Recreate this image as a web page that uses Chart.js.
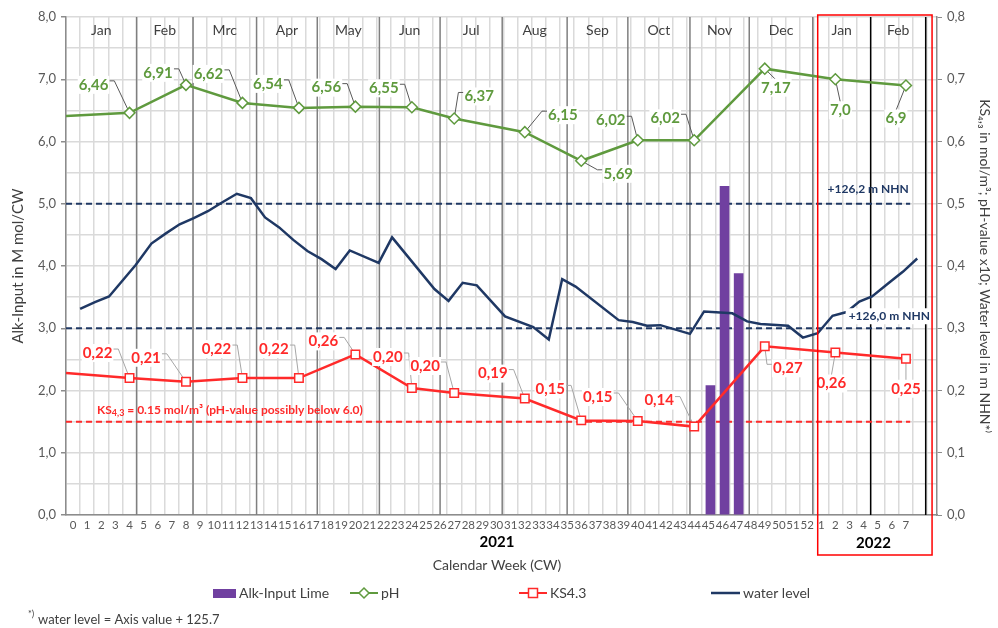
<!DOCTYPE html>
<html>
<head>
<meta charset="utf-8">
<script src="https://cdn.jsdelivr.net/npm/chart.js@4.4.0/dist/chart.umd.min.js"></script>
<style>html,body{margin:0;padding:0;background:#fff}</style>
</head>
<body>
<canvas id="c" width="998" height="628"></canvas>
<script>
// x axis: calendar weeks 2021 (0..52) followed by 2022 (1..7)
const cwLabels = ['0','1','2','3','4','5','6','7','8','9','10','11','12','13','14','15','16','17','18','19',
  '20','21','22','23','24','25','26','27','28','29','30','31','32','33','34','35','36','37','38','39',
  '40','41','42','43','44','45','46','47','48','49','50','51','52','1','2','3','4','5','6','7'];
const monthNames = ['Jan','Feb','Mrc','Apr','May','Jun','Jul','Aug','Sep','Oct','Nov','Dec','Jan','Feb'];
const monthEdges = [-0.5,4.5,8.5,13.0,17.3,21.7,26.0,30.4,35.0,39.3,43.7,47.9,52.4,56.5,60.4];

// lime input (left axis)
const limeWeeks = [45.15,46.15,47.15];
const limeValues = [2.08,5.28,3.88];

// pH (plotted on left axis scale)
const phWeeks = [4,8,12,16,20,24,27,32,36,40,44,49,54,59];
const phValues = [6.46,6.91,6.62,6.54,6.56,6.55,6.37,6.15,5.69,6.02,6.02,7.17,7.0,6.9];
const phLabels = ['6,46','6,91','6,62','6,54','6,56','6,55','6,37','6,15','5,69','6,02','6,02','7,17','7,0','6,9'];
const phStart = 6.41;

// KS4.3 (right axis)
const ksWeeks = [4,8,12,16,20,24,27,32,36,40,44,49,54,59];
const ksValues = [0.220,0.214,0.220,0.220,0.258,0.204,0.196,0.187,0.152,0.151,0.142,0.271,0.261,0.251];
const ksLabels = ['0,22','0,21','0,22','0,22','0,26','0,20','0,20','0,19','0,15','0,15','0,14','0,27','0,26','0,25'];
const ksStart = 0.228;

// water level (left axis value, + 125.7 m on the right axis /10)
const waterWeeks = [0.5,1.55,2.55,4.45,5.55,6.55,7.55,8.55,9.55,10.55,11.6,12.6,13.6,14.6,15.6,16.6,17.6,18.6,19.6,21.65,
  22.6,25.6,26.6,27.6,28.6,30.6,32.6,33.7,34.65,35.6,38.65,39.65,40.65,41.6,43.7,44.7,46.7,47.75,48.7,50.65,
  51.7,52.75,53.8,54.8,55.7,56.6,57.8,58.8,59.8];
const waterValues = [3.31,3.42,3.51,4.02,4.36,4.52,4.67,4.77,4.88,5.02,5.16,5.09,4.78,4.62,4.42,4.24,4.11,3.95,4.25,4.05,
  4.46,3.63,3.44,3.73,3.69,3.19,3.02,2.82,3.79,3.67,3.13,3.10,3.04,3.05,2.91,3.27,3.24,3.11,3.07,3.04,
  2.85,2.92,3.20,3.26,3.43,3.51,3.73,3.91,4.12];

const levelLines = [5.0, 3.0];   // +126,2 / +126,0 m NHN
const ksLimit = 1.5;             // 0.15 mol/m3

// label placement (text centre relative to the point)
const phLabelOffset = [[-36,-28],[-28,-12],[-34,-29],[-31,-24],[-29,-19],[-28,-19],[25,-22],[38,-17],[37,13],[-27,-20],[-29,-22],[11,19],[5,31],[-10,33]];
const ksLabelOffset = [[-32,-25],[-40,-24],[-26,-29],[-25,-29],[-32,-13],[-24,-31],[-29,-27],[-32,-25],[-31,-31],[-40,-24],[-35,-26],[23,22],[-4,31],[0,30]];

const FONT = "Lato, 'Open Sans', sans-serif";
const GREEN = '#5f9a3e', RED = '#ff2a2a', NAVY = '#1f3864', PURPLE = '#7040a0', TXT = '#404040';

const xTicks = [];
for (let i = 0; i < cwLabels.length; i++) xTicks.push({value: i});
const halfTicks = [];
for (let v = -0.5; v <= 60.5; v += 1) halfTicks.push({value: v});

function labelGeom(ctx, chart, dsIndex, labels, offs){
  const pts = chart.getDatasetMeta(dsIndex).data;
  return labels.map((t, j) => {
    const p = pts[j + 1];
    const w = ctx.measureText(t).width;
    return {t, px: p.x, py: p.y, tx: p.x + offs[j][0], ty: p.y + offs[j][1], w};
  });
}

function drawLeaders(ctx, geo, color){
  ctx.strokeStyle = color; ctx.lineWidth = 1;
  geo.forEach(g => {
    const dx = g.tx - g.px, left = g.tx - g.w/2, right = g.tx + g.w/2;
    ctx.beginPath();
    if (Math.abs(dx) < 15) { ctx.moveTo(g.px, g.py); ctx.lineTo(g.tx, g.ty - 8); }
    else if (dx < 0) { ctx.moveTo(right + 1, g.ty - 4); ctx.lineTo(right + 6, g.ty - 4); ctx.lineTo(g.px, g.py); }
    else { ctx.moveTo(left - 1, g.ty - 4); ctx.lineTo(left - 6, g.ty - 4); ctx.lineTo(g.px, g.py); }
    ctx.stroke();
  });
}

function drawLabels(ctx, geo, color){
  geo.forEach(g => {
    ctx.fillStyle = '#fff';
    ctx.fillRect(g.tx - g.w/2 - 1, g.ty - 9, g.w + 2, 18);
    ctx.fillStyle = color;
    ctx.fillText(g.t, g.tx, g.ty);
  });
}

const decor = {
  id: 'decor',
  beforeDatasetsDraw(chart){
    const {ctx, chartArea: a, scales: {x, y}} = chart;
    ctx.save();
    ctx.lineWidth = 1.5;
    for (let i = 1; i < monthEdges.length; i++) {
      const px = x.getPixelForValue(monthEdges[i]);
      ctx.strokeStyle = i >= 13 ? '#000' : '#7f7f7f';
      ctx.beginPath(); ctx.moveTo(px, a.top); ctx.lineTo(px, a.bottom); ctx.stroke();
    }
    const xe = x.getPixelForValue(59.3);
    ctx.setLineDash([6,4]); ctx.lineWidth = 2;
    ctx.strokeStyle = NAVY;
    levelLines.forEach(v => { const py = y.getPixelForValue(v); ctx.beginPath(); ctx.moveTo(a.left, py); ctx.lineTo(xe, py); ctx.stroke(); });
    ctx.strokeStyle = RED;
    const pk = y.getPixelForValue(ksLimit);
    ctx.beginPath(); ctx.moveTo(a.left, pk); ctx.lineTo(xe, pk); ctx.stroke();
    ctx.setLineDash([]);
    ctx.font = 'bold 15px ' + FONT;
    drawLeaders(ctx, labelGeom(ctx, chart, 0, phLabels, phLabelOffset), '#595959');
    drawLeaders(ctx, labelGeom(ctx, chart, 1, ksLabels, ksLabelOffset), '#a6a6a6');
    ctx.restore();
  },
  afterDatasetsDraw(chart){
    const {ctx, chartArea: a, scales: {x, y}} = chart;
    ctx.save();
    ctx.textAlign = 'center'; ctx.textBaseline = 'middle';
    ctx.font = 'bold 15px ' + FONT;
    drawLabels(ctx, labelGeom(ctx, chart, 0, phLabels, phLabelOffset), GREEN);
    drawLabels(ctx, labelGeom(ctx, chart, 1, ksLabels, ksLabelOffset), RED);

    // level texts
    ctx.font = 'bold 12px ' + FONT;
    ctx.fillStyle = NAVY; ctx.textAlign = 'right';
    ctx.fillText('+126,2 m NHN', x.getPixelForValue(59.2), y.getPixelForValue(levelLines[0]) - 15);
    ctx.textAlign = 'left';
    const t2 = '+126,0 m NHN', w2 = ctx.measureText(t2).width, x2 = x.getPixelForValue(54.8) + 2, y2 = y.getPixelForValue(levelLines[1]) - 12;
    ctx.fillStyle = '#fff'; ctx.fillRect(x2 - 3, y2 - 8, w2 + 6, 16);
    ctx.fillStyle = NAVY; ctx.fillText(t2, x2, y2);

    // KS limit text with subscript
    ctx.fillStyle = RED;
    let kx = 97; const ky = y.getPixelForValue(ksLimit) - 12;
    ctx.fillText('KS', kx, ky); kx += ctx.measureText('KS').width;
    ctx.font = 'bold 9px ' + FONT; ctx.fillText('4,3', kx, ky + 3); kx += ctx.measureText('4,3').width;
    ctx.font = 'bold 12px ' + FONT; ctx.fillText(' = 0.15 mol/m\u00b3 (pH-value possibly below 6.0)', kx, ky);

    // month names
    ctx.font = '14px ' + FONT; ctx.fillStyle = TXT; ctx.textAlign = 'center';
    for (let i = 0; i < monthNames.length; i++) {
      const cx = x.getPixelForValue((monthEdges[i] + monthEdges[i + 1]) / 2);
      ctx.fillText(monthNames[i], cx, 30);
    }

    // 2022 box
    ctx.strokeStyle = '#ff0000'; ctx.lineWidth = 1.5;
    const bl = x.getPixelForValue(52.75), br = x.getPixelForValue(60.85);
    ctx.strokeRect(bl, 15, br - bl, 540);
    ctx.restore();
  },
  afterDraw(chart){
    const {ctx, scales: {x}} = chart;
    ctx.save();
    ctx.textBaseline = 'middle'; ctx.textAlign = 'center';
    ctx.fillStyle = '#000'; ctx.font = 'bold 15px ' + FONT;
    ctx.fillText('2021', 497, 542);
    ctx.fillText('2022', x.getPixelForValue(56.7), 543);
    ctx.fillStyle = TXT; ctx.font = '14px ' + FONT;
    ctx.fillText('Calendar Week (CW)', 497, 565);

    // legend
    const ly = 593;
    ctx.textAlign = 'left'; ctx.font = '14px ' + FONT;
    ctx.fillStyle = PURPLE; ctx.fillRect(213, ly - 4, 23, 9);
    ctx.fillStyle = TXT; ctx.fillText('Alk-Input Lime', 239, ly);
    ctx.lineWidth = 2;
    ctx.strokeStyle = GREEN; ctx.beginPath(); ctx.moveTo(350, ly); ctx.lineTo(378, ly); ctx.stroke();
    ctx.fillStyle = '#fff'; ctx.beginPath(); ctx.moveTo(364, ly - 5); ctx.lineTo(369, ly); ctx.lineTo(364, ly + 5); ctx.lineTo(359, ly); ctx.closePath(); ctx.fill(); ctx.lineWidth = 1.5; ctx.stroke();
    ctx.fillStyle = TXT; ctx.fillText('pH', 381, ly);
    ctx.lineWidth = 2;
    ctx.strokeStyle = RED; ctx.beginPath(); ctx.moveTo(519, ly); ctx.lineTo(547, ly); ctx.stroke();
    ctx.fillStyle = '#fff'; ctx.fillRect(528.5, ly - 4.5, 9, 9); ctx.lineWidth = 1.5; ctx.strokeRect(528.5, ly - 4.5, 9, 9);
    ctx.fillStyle = TXT; ctx.fillText('KS4.3', 550, ly);
    ctx.lineWidth = 2.5;
    ctx.strokeStyle = NAVY; ctx.beginPath(); ctx.moveTo(711, ly); ctx.lineTo(740, ly); ctx.stroke();
    ctx.fillStyle = TXT; ctx.fillText('water level', 743, ly);

    // footnote
    ctx.font = '9px ' + FONT; ctx.fillText('*)', 28, 614);
    ctx.font = '13px ' + FONT; ctx.fillText('water level = Axis value + 125.7', 38, 620);
    ctx.restore();
  }
};

const ptData = (weeks, vals, start) => [{x: -0.5, y: start}].concat(weeks.map((w, i) => ({x: w, y: vals[i]})));

new Chart(document.getElementById('c'), {
  type: 'line',
  data: {
    datasets: [
      { label: 'pH', data: ptData(phWeeks, phValues, phStart), yAxisID: 'y', borderColor: GREEN, borderWidth: 2.5,
        pointStyle: 'rectRot', pointRadius: c => c.dataIndex === 0 ? 0 : 5.5, pointBackgroundColor: '#fff',
        pointBorderColor: GREEN, pointBorderWidth: 1.5, order: 1 },
      { label: 'KS4.3', data: ptData(ksWeeks, ksValues, ksStart), yAxisID: 'y2', borderColor: RED, borderWidth: 2.5,
        pointStyle: 'rect', pointRadius: c => c.dataIndex === 0 ? 0 : 6, pointBackgroundColor: '#fff',
        pointBorderColor: RED, pointBorderWidth: 1.5, order: 1 },
      { label: 'water level', data: waterWeeks.map((w, i) => ({x: w, y: waterValues[i]})), yAxisID: 'y',
        borderColor: NAVY, borderWidth: 2.5, pointRadius: 0, order: 2 },
      { type: 'bar', label: 'Alk-Input Lime', data: limeWeeks.map((w, i) => ({x: w, y: limeValues[i]})), yAxisID: 'y',
        backgroundColor: PURPLE, barThickness: 9, order: 5 }
    ]
  },
  options: {
    responsive: false, animation: false, devicePixelRatio: 1,
    layout: {padding: {top: 17, left: 0, right: 0, bottom: 0}},
    plugins: {legend: {display: false}, tooltip: {enabled: false}},
    scales: {
      x: {
        type: 'linear', position: 'bottom', min: -0.5, max: 61.2, offset: false,
        afterBuildTicks: s => { s.ticks = xTicks.map(t => ({value: t.value})); },
        afterFit: s => { s.height = 113; s.paddingLeft = 0; s.paddingRight = 0; },
        grid: {display: false, drawTicks: false, offset: false},
        border: {display: true, color: '#8c8c8c', width: 1.5},
        ticks: {autoSkip: false, maxRotation: 0, minRotation: 0, padding: 3, color: '#595959',
          font: {family: FONT, size: 11.5}, callback: (v, i) => cwLabels[i]}
      },
      xg: {
        type: 'linear', position: 'bottom', min: -0.5, max: 61.2, offset: false,
        afterBuildTicks: s => { s.ticks = halfTicks.map(t => ({value: t.value})); },
        afterFit: s => { s.height = 0; s.paddingLeft = 0; s.paddingRight = 0; },
        ticks: {display: false},
        grid: {color: '#dadada', lineWidth: 1.5, drawTicks: false, offset: false},
        border: {display: false}
      },
      y: {
        position: 'left', min: 0, max: 8,
        ticks: {stepSize: 0.5, padding: 5, color: '#595959', font: {family: FONT, size: 13},
          callback: v => Number.isInteger(v) ? v.toFixed(1).replace('.', ',') : ''},
        grid: {color: '#dadada', lineWidth: 1.5, tickLength: 5,
          tickColor: c => c.tick && Number.isInteger(c.tick.value) ? '#8c8c8c' : 'rgba(0,0,0,0)'},
        border: {display: true, color: '#8c8c8c', width: 1.5},
        title: {display: true, text: 'Alk-Input in M mol/CW', color: TXT, font: {family: FONT, size: 15}, padding: {top: 9, bottom: 0}},
        afterFit: s => { s.width = 66; }
      },
      y2: {
        position: 'right', min: 0, max: 0.8,
        ticks: {stepSize: 0.1, padding: 5, color: '#595959', font: {family: FONT, size: 13},
          callback: v => v.toFixed(1).replace('.', ',')},
        grid: {drawOnChartArea: false, tickLength: 5, color: '#8c8c8c'},
        border: {display: true, color: '#8c8c8c', width: 1.5},
        title: {display: true, text: 'KS\u2084,\u2083 in mol/m\u00b3; pH-value x10; Water level in m NHN*\u207e', color: TXT,
          font: {family: FONT, size: 14}, padding: {top: 5, bottom: 0}},
        afterFit: s => { s.width = 61; }
      }
    }
  },
  plugins: [decor]
});
</script>
</body>
</html>
